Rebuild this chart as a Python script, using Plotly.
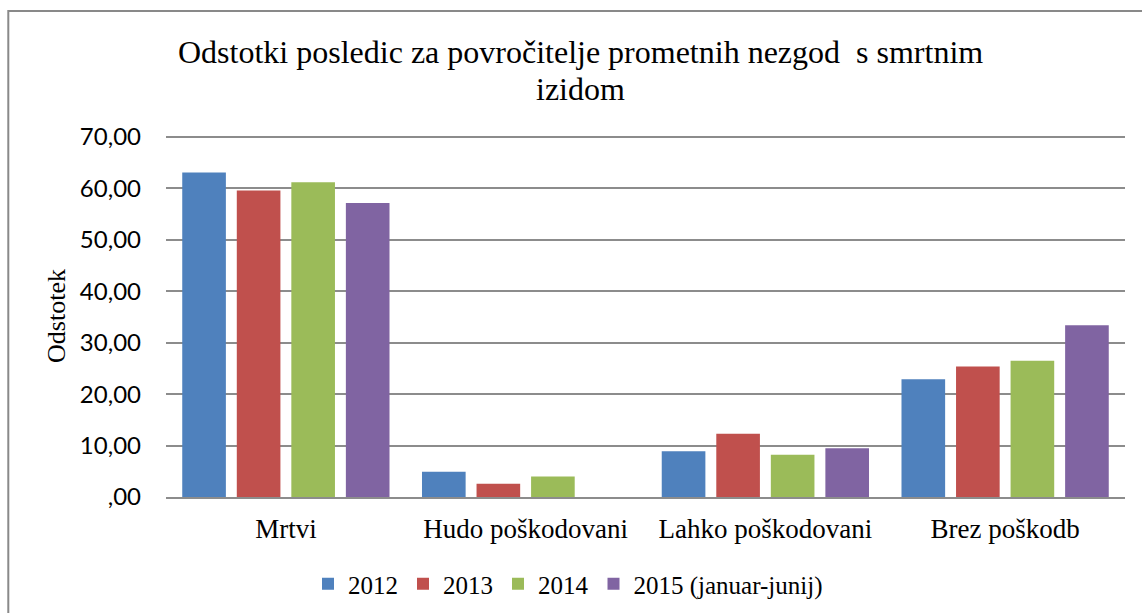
import plotly.graph_objects as go

categories = ["Mrtvi", "Hudo poškodovani", "Lahko poškodovani", "Brez poškodb"]
series_names = ["2012", "2013", "2014", "2015 (januar-junij)"]
v2012 = [63.1, 4.9, 8.9, 22.9]
v2013 = [59.6, 2.6, 12.3, 25.4]
v2014 = [61.2, 4.0, 8.2, 26.5]
v2015 = [57.2, 0.0, 9.5, 33.4]
tick_values = [0, 10, 20, 30, 40, 50, 60, 70]
tick_labels = [",00", "10,00", "20,00", "30,00", "40,00", "50,00", "60,00", "70,00"]
title_lines = ["Odstotki posledic za povročitelje prometnih nezgod\u00a0 s smrtnim", "izidom"]

colors = ["#4F81BD", "#C0504D", "#9BBB59", "#8064A2"]
serif = "Liberation Serif, Times New Roman, serif"
sans = "Lato, Liberation Sans, sans-serif"

fig = go.Figure()
for name, vals, col in zip(series_names, [v2012, v2013, v2014, v2015], colors):
    fig.add_trace(go.Bar(x=categories, y=vals, name=name, marker_color=col,
                         marker_line_width=0))

W, H = 1142, 613
L, R, T, B = 166, 17, 135, 116
pw, ph = W - L - R, H - T - B

def px2x(p):
    return (p - L) / pw

def py2y(p):
    return (H - B - p) / ph

annotations = []
for line, ypx in zip(title_lines, [52, 89]):
    annotations.append(dict(text=line, xref="paper", yref="paper",
                            x=px2x(580), y=py2y(ypx), xanchor="center", yanchor="middle",
                            showarrow=False,
                            font=dict(family=serif, size=32, color="black")))

fig.update_layout(
    width=W, height=H, autosize=False,
    margin=dict(l=L, r=R, t=T, b=B, autoexpand=False),
    paper_bgcolor="white", plot_bgcolor="white",
    barmode="group", bargap=0.09, bargroupgap=0.2,
    showlegend=True,
    legend=dict(orientation="h", x=px2x(568), xanchor="center",
                yref="container", y=1 - 584 / H, yanchor="middle",
                font=dict(family=serif, size=25, color="black"), itemwidth=30,
                traceorder="normal"),
    xaxis=dict(showgrid=False, showline=True, linecolor="#8C8C8C", linewidth=2,
               ticks="", tickfont=dict(family=serif, size=27, color="black"),
               ticklabelstandoff=7, automargin=False),
    yaxis=dict(range=[0, 70.4], tickvals=tick_values, ticktext=tick_labels,
               showgrid=True, gridcolor="#8C8C8C", gridwidth=2, zeroline=False,
               showline=False, ticks="", ticklabelstandoff=24, automargin=False,
               tickfont=dict(family=sans, size=24, color="black"),
               title=dict(text="Odstotek", font=dict(family=serif, size=26, color="black"),
                          standoff=6)),
    annotations=annotations,
    shapes=[dict(type="rect", xref="paper", yref="paper",
                 x0=px2x(8.3), x1=px2x(1150), y0=py2y(620), y1=py2y(11),
                 line=dict(color="#898989", width=2), fillcolor="rgba(0,0,0,0)",
                 layer="below")],
)

fig.write_html("out.html", config={"displayModeBar": False},
               post_script="document.body.style.margin='0';document.body.style.overflow='hidden';")
